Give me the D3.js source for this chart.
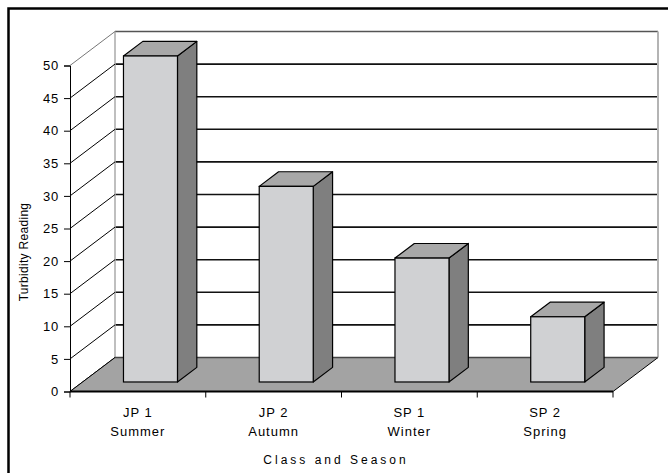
<!DOCTYPE html>
<html>
<head>
<meta charset="utf-8">
<script src="https://cdn.jsdelivr.net/npm/d3@7"></script>
<style>
  body { margin: 0; background: #fff; }
  text { font-family: Arial, "Liberation Sans", sans-serif; fill: #000; }
</style>
</head>
<body>
<svg id="chart" width="668" height="473"></svg>
<script>
// data
var classes = ['JP 1', 'JP 2', 'SP 1', 'SP 2'];
var seasons = ['Summer', 'Autumn', 'Winter', 'Spring'];
var turbidity = [50, 30, 19, 10];
var yTicks = [0, 5, 10, 15, 20, 25, 30, 35, 40, 45, 50];

var svg = d3.select('#chart');

// 3d depth offset of the back wall
var dx = 45, dy = -34;
var barFront = 0.28, barBack = 0.71;

var y = d3.scaleLinear().domain([0, 50]).range([391.5, 65.5]);
var x = d3.scaleBand().domain(classes).range([70, 613]).paddingInner(0).paddingOuter(0);
var barW = 54;
var barOff = (x.bandwidth() - barW) / 2;

// outer frame (runs off the page on right and bottom)
svg.append('rect')
  .attr('x', 8.5).attr('y', 8.5).attr('width', 720).attr('height', 520)
  .attr('fill', 'none').attr('stroke', '#000').attr('stroke-width', 2.5);

var x0 = x.range()[0], x1 = x.range()[1];

// back wall
svg.append('rect')
  .attr('x', x0 + dx).attr('y', y(50) + dy)
  .attr('width', x1 - x0).attr('height', y(0) - y(50))
  .attr('fill', '#fff');

// back wall gridlines
svg.append('g').selectAll('line').data(yTicks.filter(function(d){ return d > 0 && d < 50; }))
  .join('line')
  .attr('x1', x0 + dx).attr('x2', x1 + dx)
  .attr('y1', function(d){ return y(d) + dy; }).attr('y2', function(d){ return y(d) + dy; })
  .attr('stroke', '#111').attr('stroke-width', 1.6);

// wall edges
svg.append('line').attr('x1', x0 + dx).attr('x2', x1 + dx)
  .attr('y1', y(50) + dy).attr('y2', y(50) + dy)
  .attr('stroke', '#555').attr('stroke-width', 1.5);
svg.append('line').attr('x1', x0 + dx).attr('x2', x0 + dx)
  .attr('y1', y(50) + dy).attr('y2', y(0) + dy)
  .attr('stroke', '#aaa').attr('stroke-width', 1.5);
svg.append('line').attr('x1', x1 + dx).attr('x2', x1 + dx)
  .attr('y1', y(50) + dy).attr('y2', y(0) + dy)
  .attr('stroke', '#b4b4b4').attr('stroke-width', 2);

// left side wall diagonals
svg.append('g').selectAll('line').data(yTicks)
  .join('line')
  .attr('x1', x0).attr('y1', function(d){ return y(d); })
  .attr('x2', x0 + dx).attr('y2', function(d){ return y(d) + dy; })
  .attr('stroke', function(d){ return d == 50 ? '#777' : '#000'; })
  .attr('stroke-width', 1);

// floor
svg.append('path')
  .attr('d', 'M' + x0 + ',' + y(0) + 'L' + x1 + ',' + y(0) +
    'L' + (x1 + dx) + ',' + (y(0) + dy) + 'L' + (x0 + dx) + ',' + (y(0) + dy) + 'Z')
  .attr('fill', '#a3a3a3').attr('stroke', '#000').attr('stroke-width', 1);
svg.append('line').attr('x1', x0 + dx).attr('x2', x1 + dx)
  .attr('y1', y(0) + dy).attr('y2', y(0) + dy)
  .attr('stroke', '#444').attr('stroke-width', 1.5);
svg.append('line').attr('x1', x0).attr('x2', x1)
  .attr('y1', y(0)).attr('y2', y(0))
  .attr('stroke', '#000').attr('stroke-width', 2);

// bars
var fx = dx * barFront, fy = dy * barFront;
var ddx = dx * (barBack - barFront), ddy = dy * (barBack - barFront);
var bars = svg.append('g').selectAll('g').data(classes).join('g');
bars.each(function(c, i) {
  var g = d3.select(this);
  var bx = x(c) + barOff + fx;
  var top = y(turbidity[i]) + fy;
  var bot = y(0) + fy;
  // side
  g.append('path')
    .attr('d', 'M' + (bx + barW) + ',' + top + 'L' + (bx + barW + ddx) + ',' + (top + ddy) +
      'L' + (bx + barW + ddx) + ',' + (bot + ddy) + 'L' + (bx + barW) + ',' + bot + 'Z')
    .attr('fill', '#7f7f7f').attr('stroke', '#000').attr('stroke-width', 1.2).attr('stroke-linejoin', 'round');
  // top
  g.append('path')
    .attr('d', 'M' + bx + ',' + top + 'L' + (bx + ddx) + ',' + (top + ddy) +
      'L' + (bx + barW + ddx) + ',' + (top + ddy) + 'L' + (bx + barW) + ',' + top + 'Z')
    .attr('fill', '#a8a8a8').attr('stroke', '#000').attr('stroke-width', 1.2).attr('stroke-linejoin', 'round');
  // front
  g.append('rect')
    .attr('x', bx).attr('y', top).attr('width', barW).attr('height', bot - top)
    .attr('fill', '#d0d1d3').attr('stroke', '#000').attr('stroke-width', 1.2);
});

// y axis
var yAxis = svg.append('g').attr('transform', 'translate(' + x0 + ',0)')
  .call(d3.axisLeft(y).tickValues(yTicks).tickSize(6).tickPadding(5));
yAxis.selectAll('path, line').attr('stroke', '#000');
yAxis.selectAll('text').style('font-size', '13px').style('letter-spacing', '0.8px').attr('fill', '#000');

// category ticks
svg.append('g').selectAll('line').data(d3.range(classes.length + 1))
  .join('line')
  .attr('x1', function(d){ return x0 + d * x.bandwidth(); })
  .attr('x2', function(d){ return x0 + d * x.bandwidth(); })
  .attr('y1', y(0)).attr('y2', y(0) + 6)
  .attr('stroke', '#000').attr('stroke-width', 1);

// category labels
var lab = svg.append('g').selectAll('text').data(classes).join('text')
  .attr('text-anchor', 'middle').style('font-size', '13px').style('letter-spacing', '1px');
lab.append('tspan')
  .attr('x', function(d){ return x(d) + x.bandwidth() / 2; })
  .attr('y', 417)
  .text(function(d){ return d; });
lab.append('tspan')
  .attr('x', function(d){ return x(d) + x.bandwidth() / 2; })
  .attr('y', 436)
  .text(function(d, i){ return seasons[i]; });

// axis titles
svg.append('text').attr('x', 336).attr('y', 464).attr('text-anchor', 'middle')
  .style('font-size', '12px').style('letter-spacing', '3px')
  .text('Class and Season');
svg.append('text').attr('transform', 'translate(28,252) rotate(-90)')
  .attr('text-anchor', 'middle').style('font-size', '12px').style('letter-spacing', '0.3px')
  .text('Turbidity Reading');
</script>
</body>
</html>
